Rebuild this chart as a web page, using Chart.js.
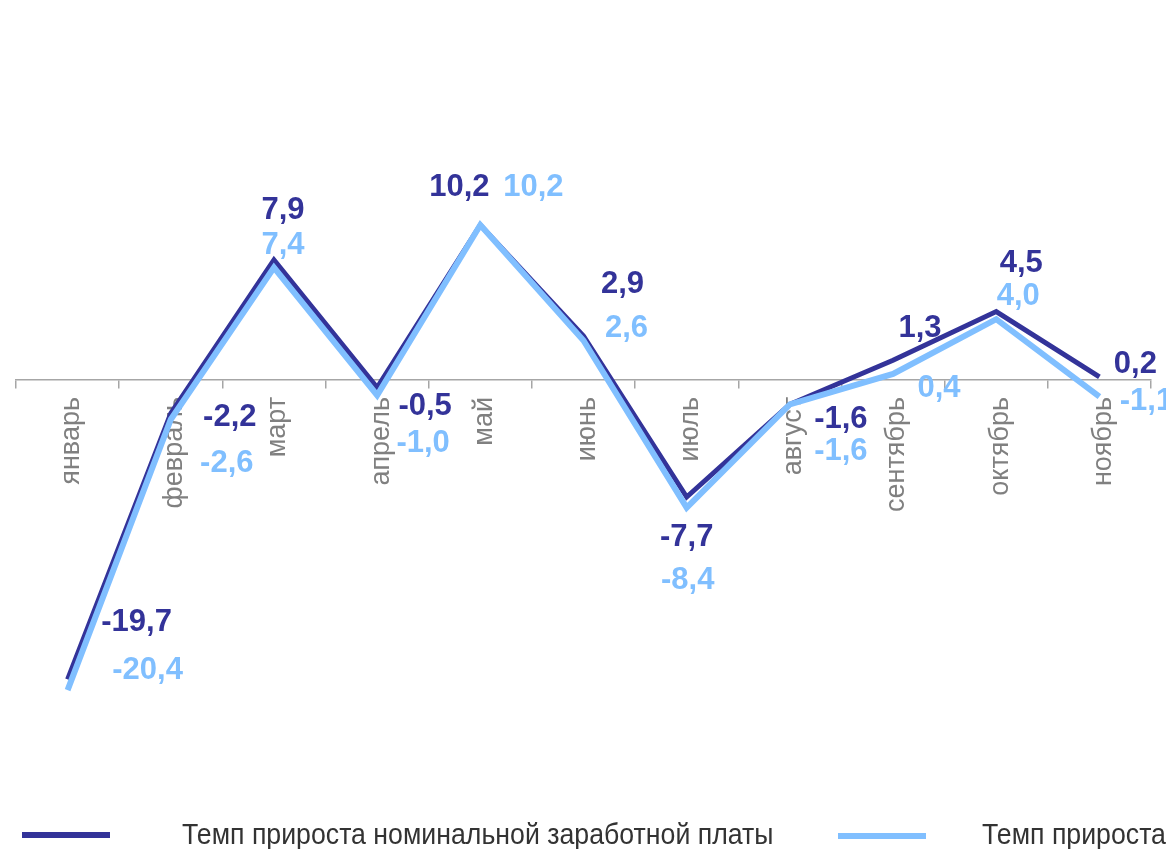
<!DOCTYPE html>
<html lang="ru">
<head>
<meta charset="utf-8">
<title>Темп прироста заработной платы</title>
<script src="https://cdn.jsdelivr.net/npm/chart.js@4/dist/chart.umd.min.js"></script>
<style>
  html, body { margin: 0; padding: 0; background: #fff; overflow: hidden; }
  #wrap { position: relative; width: 1166px; height: 849px; overflow: hidden; }
  .lg-line { position: absolute; height: 6px; }
  .lg-text { position: absolute; white-space: nowrap; color: #333;
             font: 30px 'Liberation Sans', Arial, sans-serif;
             transform: scaleX(0.89); transform-origin: 0 0; }
</style>
</head>
<body>
<div id="wrap">
  <canvas id="wageChart" width="1166" height="849"></canvas>
  <div class="lg-line" style="left:22px; top:832px; width:88px; background:#333399;"></div>
  <div class="lg-text" style="left:182px; top:817px;">Темп прироста номинальной заработной платы</div>
  <div class="lg-line" style="left:838px; top:833px; width:88px; background:#80BFFF;"></div>
  <div class="lg-text" style="left:982px; top:817px;">Темп прироста реальной заработной платы</div>
</div>
<script>
// месяцы
const months = ['январь', 'февраль', 'март', 'апрель', 'май', 'июнь',
                'июль', 'август', 'сентябрь', 'октябрь', 'ноябрь'];

// темп прироста номинальной заработной платы, %
const nominal = [-19.7, -2.2, 7.9, -0.5, 10.2, 2.9, -7.7, -1.6, 1.3, 4.5, 0.2];
// темп прироста реальной заработной платы, %
const real = [-20.4, -2.6, 7.4, -1.0, 10.2, 2.6, -8.4, -1.6, 0.4, 4.0, -1.1];

// смещения подписей значений от точки (px)
const nominalLabelDx = [69, 59, 9, 48, -21, 39, 0, 51, 27, 25, 36];
const nominalLabelDy = [-59, 2, -52, 16, -40, -54, 38, 13, -34, -51, -15];
const realLabelDx = [80, 56, 9, 46, 53, 43, 1, 51, 46, 22, 47];
const realLabelDy = [-22, 41, -25, 46, -40, -14, 70, 45, 12, -25, 2];

const DARK = '#333399';
const LIGHT = '#80BFFF';

// подписи значений
const valueLabels = {
    id: 'valueLabels',
    afterDatasetsDraw(chart) {
        const ctx = chart.ctx;
        ctx.save();
        ctx.font = "bold 31px 'Liberation Sans', Arial, sans-serif";
        ctx.textAlign = 'center';
        ctx.textBaseline = 'alphabetic';
        chart.data.datasets.forEach((ds, i) => {
            const meta = chart.getDatasetMeta(i);
            ctx.fillStyle = ds.borderColor;
            meta.data.forEach((pt, j) => {
                const txt = ds.data[j].toFixed(1).replace('.', ',');
                const x = pt.x + ds.labelDx[j];
                const y = pt.y + ds.labelDy[j] + 11;
                ctx.fillText(txt, x, y);
            });
        });
        ctx.restore();
    }
};

const ctx = document.getElementById('wageChart').getContext('2d');

new Chart(ctx, {
    type: 'line',
    data: {
        labels: months,
        datasets: [{
            label: 'Темп прироста номинальной заработной платы',
            data: nominal,
            borderColor: DARK,
            borderWidth: 5,
            order: 1,
            labelDx: nominalLabelDx,
            labelDy: nominalLabelDy
        }, {
            label: 'Темп прироста реальной заработной платы',
            data: real,
            borderColor: LIGHT,
            borderWidth: 6,
            order: 0,
            labelDx: realLabelDx,
            labelDy: realLabelDy
        }]
    },
    options: {
        responsive: false,
        devicePixelRatio: 1,
        animation: false,
        layout: { padding: { left: 16, right: 15, top: 152, bottom: 89 } },
        elements: {
            point: { radius: 0, hoverRadius: 0 },
            line: { tension: 0, borderJoinStyle: 'miter', fill: false }
        },
        plugins: {
            legend: { display: false },
            tooltip: { enabled: false }
        },
        scales: {
            x: {
                position: { y: 0 },
                offset: true,
                grid: {
                    offset: true,
                    drawOnChartArea: false,
                    drawTicks: true,
                    tickLength: 8,
                    color: '#A6A6A6',
                    lineWidth: 1.5
                },
                border: { display: true, color: '#A6A6A6', width: 1.5 },
                ticks: {
                    minRotation: 90,
                    maxRotation: 90,
                    padding: 9,
                    labelOffset: 4,
                    autoSkip: false,
                    color: '#808080',
                    font: { family: "'Liberation Sans', Arial, sans-serif", size: 27 }
                }
            },
            y: {
                display: false,
                min: -25,
                max: 15
            }
        }
    },
    plugins: [valueLabels]
});
</script>
</body>
</html>
